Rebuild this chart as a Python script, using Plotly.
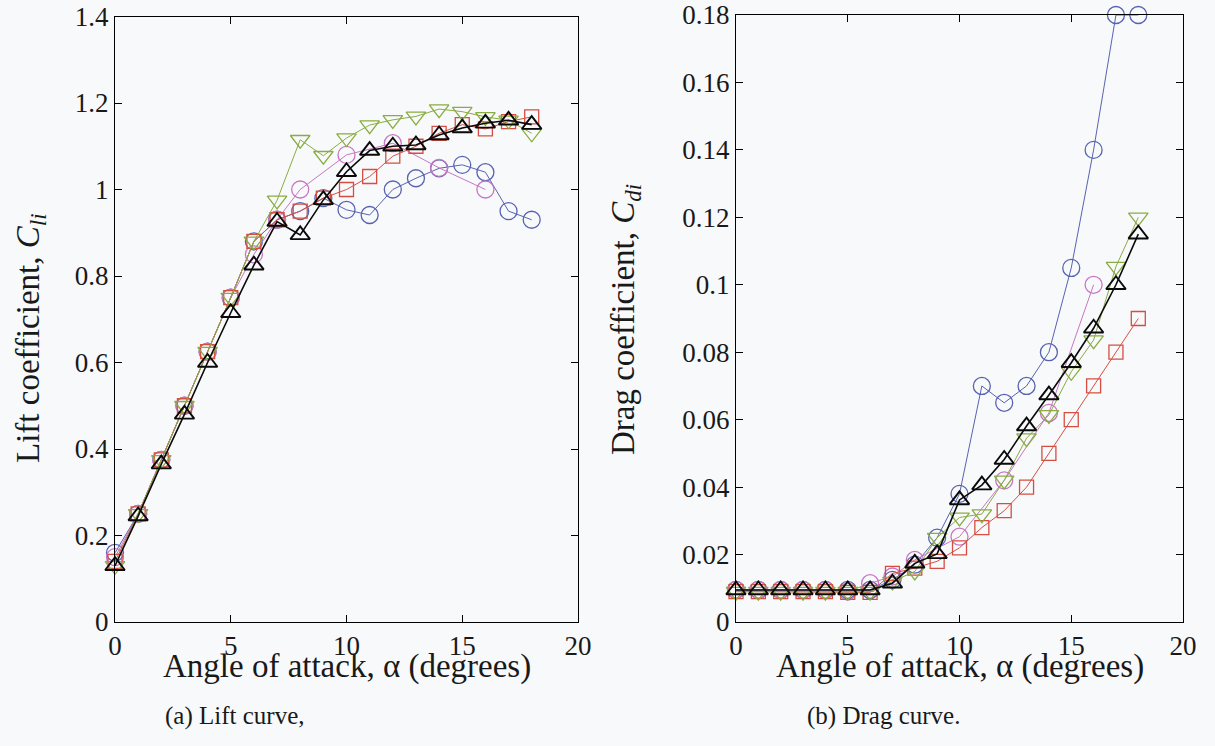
import plotly.graph_objects as go

# ---------------- data ----------------
alpha = list(range(0, 19))
alpha_pink = [0, 1, 2, 3, 4, 5, 6, 7, 8, 10, 12, 14, 16]

# Lift coefficient
cl_blue = [0.16, 0.25, 0.375, 0.5, 0.625, 0.75, 0.88, 0.93, 0.95, 0.98, 0.953, 0.941, 1.0, 1.026, 1.049, 1.057, 1.04, 0.95, 0.93]
cl_pink = [0.15, 0.25, 0.375, 0.5, 0.625, 0.75, 0.85, 0.93, 1.0, 1.08, 1.107, 1.05, 1.0]
cl_red = [0.14, 0.25, 0.375, 0.5, 0.625, 0.75, 0.88, 0.93, 0.95, 0.98, 1.0, 1.03, 1.077, 1.1, 1.13, 1.15, 1.14, 1.157, 1.168]
cl_green = [0.13, 0.25, 0.375, 0.5, 0.625, 0.75, 0.88, 0.975, 1.115, 1.078, 1.119, 1.149, 1.161, 1.169, 1.186, 1.18, 1.168, 1.16, 1.13]
cl_black = [0.13, 0.245, 0.365, 0.48, 0.6, 0.715, 0.825, 0.926, 0.895, 0.976, 1.041, 1.09, 1.1, 1.103, 1.126, 1.142, 1.153, 1.16, 1.15]

# Drag coefficient
cd_blue = [0.0095, 0.0095, 0.0095, 0.0095, 0.0095, 0.0095, 0.0095, 0.0125, 0.017, 0.025, 0.038, 0.07, 0.065, 0.07, 0.08, 0.105, 0.14, 0.18, 0.18]
cd_pink = [0.0095, 0.0095, 0.0095, 0.0095, 0.0095, 0.009, 0.0115, 0.0135, 0.0184, 0.0253, 0.042, 0.062, 0.1]
cd_red = [0.009, 0.009, 0.009, 0.009, 0.009, 0.0088, 0.0088, 0.0144, 0.016, 0.018, 0.022, 0.028, 0.033, 0.04, 0.05, 0.06, 0.07, 0.08, 0.09]
cd_green = [0.009, 0.009, 0.009, 0.009, 0.009, 0.009, 0.009, 0.012, 0.015, 0.025, 0.031, 0.032, 0.042, 0.0545, 0.0614, 0.0742, 0.0836, 0.1054, 0.12]
cd_black = [0.0095, 0.0095, 0.0095, 0.0095, 0.0095, 0.0095, 0.0095, 0.0115, 0.0174, 0.0202, 0.0362, 0.0406, 0.0482, 0.0581, 0.0673, 0.0769, 0.0871, 0.1, 0.115]

x_ticks = [0, 5, 10, 15, 20]
cl_ticks = [0, 0.2, 0.4, 0.6, 0.8, 1.0, 1.2, 1.4]
cd_ticks = [0, 0.02, 0.04, 0.06, 0.08, 0.1, 0.12, 0.14, 0.16, 0.18]

# ---------------- styles ----------------
BLUE = "rgb(88,98,178)"
PINK = "rgb(200,118,196)"
RED = "rgb(214,78,66)"
GREEN = "rgb(138,172,66)"
BLACK = "rgb(10,10,10)"
BG = "rgb(248,249,251)"
FONT = "Liberation Serif, Times New Roman, serif"

W, H = 1215, 746

series_l = [
    (alpha, cl_blue, BLUE, "circle-open", 17, 1.0),
    (alpha_pink, cl_pink, PINK, "circle-open", 17, 1.0),
    (alpha, cl_red, RED, "square-open", 14, 1.0),
    (alpha, cl_green, GREEN, "triangle-down-open", 17, 1.0),
    (alpha, cl_black, BLACK, "triangle-up-open", 17, 1.6),
]
series_r = [
    (alpha, cd_blue, BLUE, "circle-open", 17, 1.0),
    (alpha_pink, cd_pink, PINK, "circle-open", 17, 1.0),
    (alpha, cd_red, RED, "square-open", 14, 1.0),
    (alpha, cd_green, GREEN, "triangle-down-open", 17, 1.0),
    (alpha, cd_black, BLACK, "triangle-up-open", 17, 1.6),
]

fig = go.Figure()
for xs, ys, col, sym, sz, lw in series_l:
    fig.add_trace(go.Scatter(x=xs, y=ys, mode="lines+markers", xaxis="x", yaxis="y",
                             line=dict(color=col, width=lw),
                             marker=dict(symbol=sym, size=sz, color=col, line=dict(color=col, width=lw + 0.3)),
                             cliponaxis=False, showlegend=False))
for xs, ys, col, sym, sz, lw in series_r:
    fig.add_trace(go.Scatter(x=xs, y=ys, mode="lines+markers", xaxis="x2", yaxis="y2",
                             line=dict(color=col, width=lw),
                             marker=dict(symbol=sym, size=sz, color=col, line=dict(color=col, width=lw + 0.3)),
                             cliponaxis=False, showlegend=False))

def px(x):
    return x / W

def py(y):
    return 1 - y / H

axis_common = dict(showline=True, linecolor="black", linewidth=1, mirror="ticks",
                   ticks="inside", ticklen=7, tickcolor="black", tickwidth=1,
                   showgrid=False, zeroline=False, automargin=False,
                   tickfont=dict(family=FONT, size=27, color="rgb(25,25,25)"))

fig.update_layout(
    width=W, height=H,
    margin=dict(l=0, r=0, t=0, b=0, pad=0, autoexpand=False),
    paper_bgcolor=BG, plot_bgcolor=BG,
    showlegend=False,
    xaxis=dict(domain=[px(115), px(578)], range=[0, 20], tickvals=x_ticks, anchor="y", **axis_common),
    yaxis=dict(domain=[py(622), py(16.5)], range=[0, 1.4], tickvals=cl_ticks, anchor="x", **axis_common),
    xaxis2=dict(domain=[px(736), px(1183)], range=[0, 20], tickvals=x_ticks, anchor="y2", **axis_common),
    yaxis2=dict(domain=[py(622), py(15)], range=[0, 0.18], tickvals=cd_ticks, anchor="x2", **axis_common),
)

title_font = dict(family=FONT, size=33, color="rgb(25,25,25)")
cap_font = dict(family=FONT, size=25, color="rgb(25,25,25)")
ann = [
    dict(text="Angle of attack, α (degrees)", x=px(347), y=py(666), font=title_font),
    dict(text="Angle of attack, α (degrees)", x=px(960), y=py(666), font=title_font),
    dict(text="Lift coefficient, <i>C</i><sub><i>li</i></sub>", x=px(30), y=py(338), font=title_font, textangle=-90),
    dict(text="Drag coefficient, <i>C</i><sub><i>di</i></sub>", x=px(625), y=py(320), font=title_font, textangle=-90),
    dict(text="(a) Lift curve,", x=px(235), y=py(716), font=cap_font),
    dict(text="(b) Drag curve.", x=px(883), y=py(716), font=cap_font),
]
for a in ann:
    fig.add_annotation(xref="paper", yref="paper", showarrow=False, xanchor="center", yanchor="middle", **a)

fig.write_html(
    "out.html",
    config={"displayModeBar": False},
    post_script="document.documentElement.style.margin='0';document.body.style.margin='0';"
                "document.body.style.padding='0';document.body.style.overflow='hidden';"
                "document.documentElement.style.overflow='hidden';",
)
